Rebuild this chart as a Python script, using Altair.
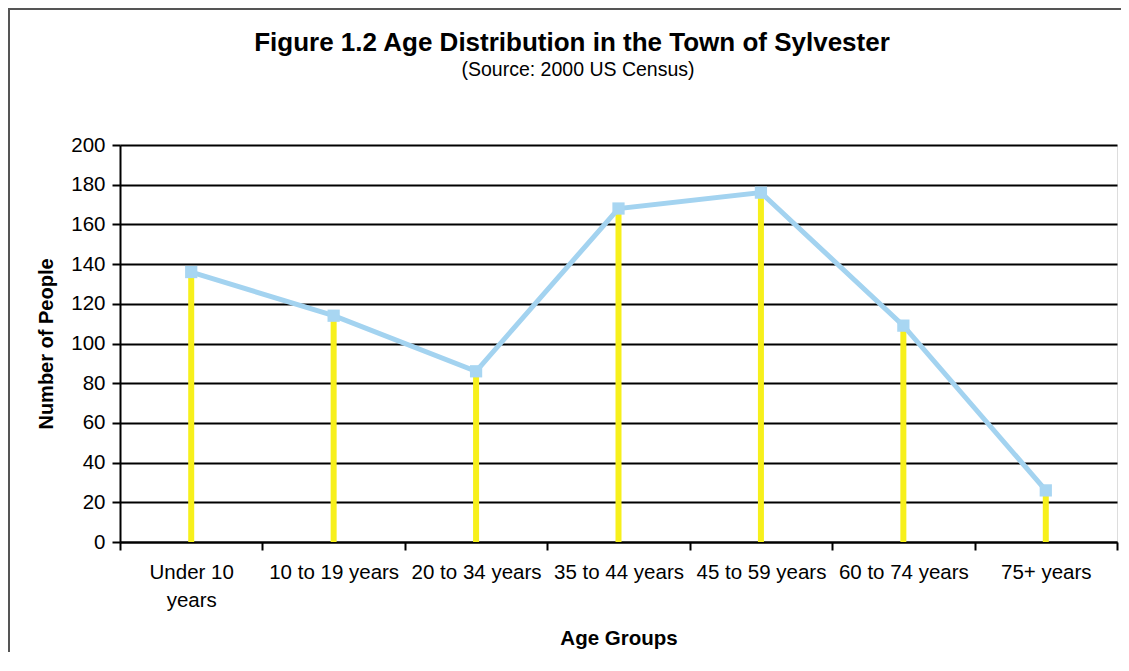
import altair as alt
import pandas as pd

categories = ["Under 10 years", "10 to 19 years", "20 to 34 years", "35 to 44 years",
              "45 to 59 years", "60 to 74 years", "75+ years"]
people = [136, 114, 86, 168, 176, 109, 26]
y_ticks = [0, 20, 40, 60, 80, 100, 120, 140, 160, 180, 200]
title_text = ["Figure 1.2 Age Distribution in the Town of Sylvester"]
subtitle_text = ["(Source: 2000 US Census)"]

df = pd.DataFrame({"group": categories, "people": people, "zero": [0] * len(categories)})

FONT = "Liberation Sans"
W, H = 997, 397

x = alt.X("group:N", sort=categories,
          scale=alt.Scale(paddingInner=0, paddingOuter=0),
          axis=alt.Axis(title="Age Groups", tickBand="extent", labelAngle=0,
                        labelExpr="datum.label == 'Under 10 years' ? ['Under 10', 'years'] : datum.label",
                        labelFontSize=20.5, labelFont=FONT, labelColor="black",
                        labelPadding=12, labelLineHeight=28, labelOverlap=False,
                        tickSize=8, tickWidth=2, tickColor="black",
                        domainColor="black", domainWidth=2,
                        titleFont=FONT, titleFontSize=20.5, titleFontWeight="bold",
                        titleColor="black", titlePadding=18))
y = alt.Y("people:Q", scale=alt.Scale(domain=[0, 200], nice=False),
          axis=alt.Axis(title="Number of People", values=y_ticks, grid=True,
                        gridColor="black", gridWidth=2, gridOpacity=1,
                        labelFontSize=20.5, labelFont=FONT, labelColor="black",
                        labelPadding=7, labelOverlap=False,
                        tickSize=8, tickWidth=2, tickColor="black",
                        domainColor="black", domainWidth=2,
                        titleFont=FONT, titleFontSize=20, titleFontWeight="bold",
                        titleColor="black", titlePadding=14))

base = alt.Chart(df)

frame = alt.Chart(pd.DataFrame({"f": [0]})).mark_rect(
    filled=False, stroke="#555555", strokeWidth=2
).encode(x=alt.value(-111), y=alt.value(-136), x2=alt.value(W + 30), y2=alt.value(H + 140))

title = alt.Chart(pd.DataFrame({"t": title_text})).mark_text(
    font=FONT, fontSize=26, fontWeight="bold", color="black", align="center",
    baseline="alphabetic"
).encode(text="t:N", x=alt.value(452), y=alt.value(-94))

subtitle = alt.Chart(pd.DataFrame({"t": subtitle_text})).mark_text(
    font=FONT, fontSize=19.5, color="black", align="center", baseline="alphabetic"
).encode(text="t:N", x=alt.value(458), y=alt.value(-69))

drops = base.mark_rule(color="#f7f01c", strokeWidth=6).encode(
    x=x, y=y, y2=alt.Y2("zero:Q")
)

line = base.mark_line(color="#a3d3f0", strokeWidth=5).encode(x=x, y=y)
points = base.mark_point(shape="square", filled=True, size=150, color="#a8d6f2",
                         opacity=1).encode(x=x, y=y)

chart = alt.layer(frame, title, subtitle, drops, line, points).properties(
    width=W, height=H,
    padding={"left": 112, "top": 137, "right": 4, "bottom": 110},
    autosize=alt.AutoSizeParams(type="none"),
).configure_view(stroke="black", strokeWidth=2).configure(background="white")

chart.save("out.html", embed_options={"renderer": "svg", "actions": False})
